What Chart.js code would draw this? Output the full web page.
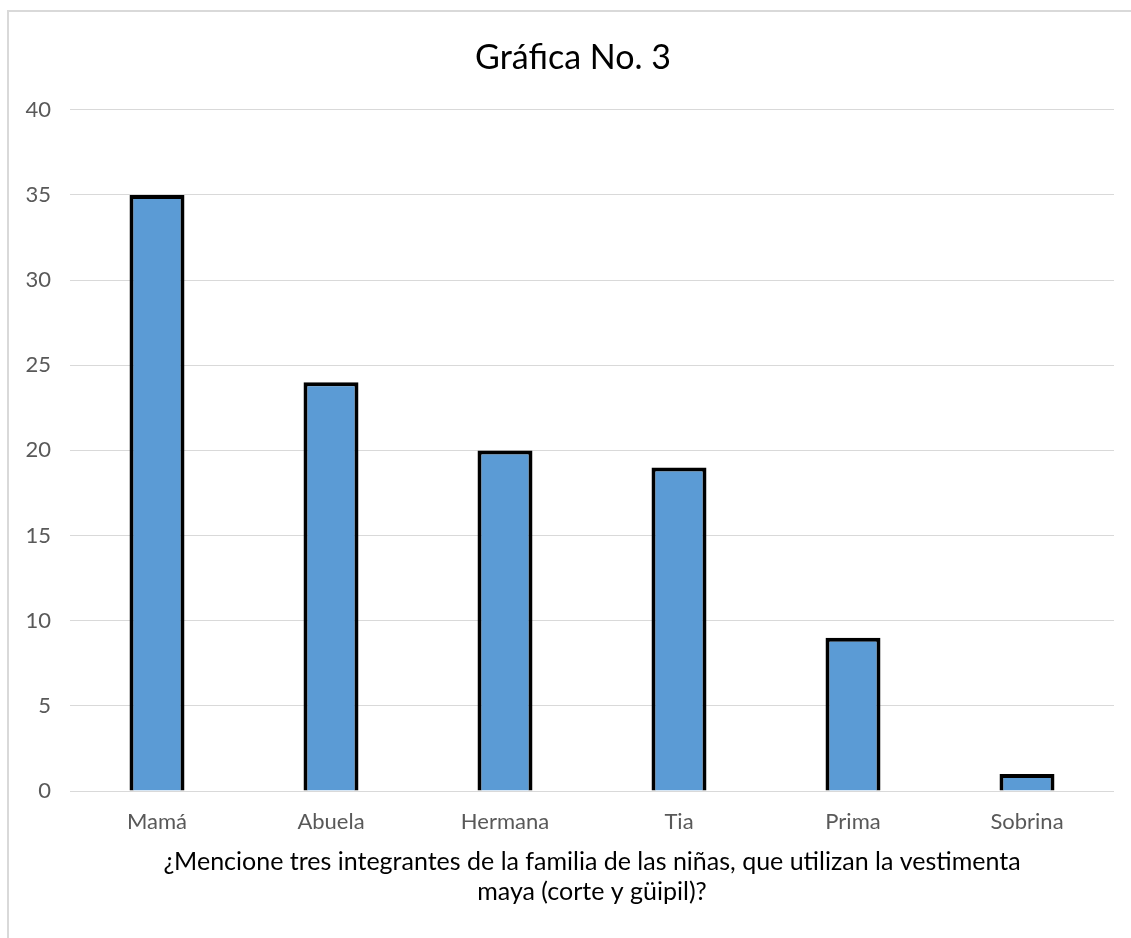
<!DOCTYPE html>
<html>
<head>
<meta charset="utf-8">
<script src="https://cdn.jsdelivr.net/npm/chart.js@4"></script>
<style>
    html, body { margin:0; padding:0; background:#fff; overflow:hidden; }
    #frame {
        position:absolute; left:7px; top:10px;
        width:1140px; height:940px;
        border:2px solid #d9d9d9; box-sizing:border-box;
    }
    #wrap { position:absolute; left:0; top:0; width:1131px; height:938px; }
</style>
</head>
<body>
<div id="frame"></div>
<div id="wrap"><canvas id="familyChart"></canvas></div>
<script>

// ==========================================================
// Data
// ==========================================================

const categories = ["Mamá","Abuela","Hermana","Tia","Prima","Sobrina"];

const values = [35,24,20,19,9,1];

const chartTitle = "Gráfica No. 3";

const axisTitle = [
    "¿Mencione tres integrantes de la familia de las niñas, que utilizan la vestimenta",
    "maya (corte y güipil)?"
];

const yMin = 0;
const yMax = 40;
const yStep = 5;

let familyChart;

// y labels sit left of the layout padding, so widen their clip box
const labelRoom = {
    id:"labelRoom",
    afterLayout(chart){
        chart.scales.y.left = 0;
    }
};

// ==========================================================
// Chart
// ==========================================================

function createChart(){

    const ctx = document.getElementById("familyChart").getContext("2d");

    familyChart = new Chart(ctx,{

        type:"bar",

        data:{
            labels:categories,
            datasets:[{
                data:values,
                backgroundColor:"#5B9BD5",
                borderColor:"#000000",
                borderWidth:4,
                barPercentage:0.316,
                categoryPercentage:1
            }]
        },

        plugins:[labelRoom],

        options:{
            responsive:true,
            maintainAspectRatio:false,
            animation:false,
            layout:{
                padding:{ left:32, right:17, top:10, bottom:0 }
            },
            plugins:{
                legend:{ display:false },
                tooltip:{ enabled:false },
                title:{
                    display:true,
                    text:chartTitle,
                    color:"#000000",
                    font:{ family:"Lato", size:34, weight:"normal", lineHeight:1.2 },
                    padding:{ top:28, bottom:31 }
                }
            },
            scales:{
                x:{
                    grid:{ display:false },
                    border:{ display:false },
                    ticks:{
                        color:"#595959",
                        font:{ family:"Lato", size:22 },
                        padding:10,
                        maxRotation:0
                    },
                    title:{
                        display:true,
                        text:axisTitle,
                        color:"#000000",
                        font:{ family:"Lato", size:25, lineHeight:1.2 },
                        padding:{ top:0, bottom:31 }
                    },
                    afterFit(scale){ scale.height = 147; }
                },
                y:{
                    min:yMin,
                    max:yMax,
                    grid:{ color:"#d9d9d9", lineWidth:1, drawTicks:false },
                    border:{ display:false },
                    ticks:{
                        stepSize:yStep,
                        color:"#595959",
                        font:{ family:"Lato", size:22 },
                        padding:19
                    },
                    afterFit(scale){ scale.width = 38; }
                }
            }
        }
    });
}

createChart();

</script>
</body>
</html>
